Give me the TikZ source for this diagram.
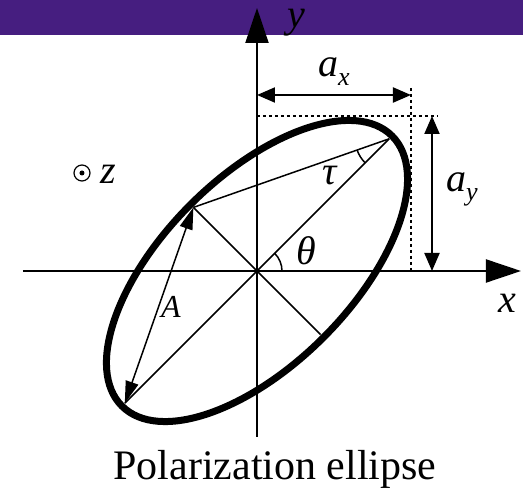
\documentclass[tikz,border=0pt]{standalone}
\usepackage{fontspec}
\setmainfont{Liberation Serif}
\usetikzlibrary{arrows.meta}
\definecolor{banner}{RGB}{70,30,128}
\newcommand{\lblsub}[2]{\itshape #1\raisebox{-9pt}{\fontsize{26}{26}\selectfont\itshape #2}}
\begin{document}
\begin{tikzpicture}[x=1pt,y=1pt,
  lbl/.style={font=\fontsize{40}{40}\selectfont\itshape, inner sep=0pt},
  axisarrow/.style={line width=2pt, -{Triangle[length=35pt,width=23pt]}},
  dimarrow/.style={line width=2pt, {Triangle[length=18pt,width=15pt]}-{Triangle[length=18pt,width=15pt]}},
  aarrow/.style={line width=1.5pt, {Triangle[length=22pt,width=13pt]}-{Triangle[length=22pt,width=13pt]}},
  thinline/.style={line width=1.5pt},
  dotline/.style={line width=1.5pt, dash pattern=on 3pt off 3pt},
  ellipseline/.style={line width=7pt}
  ]
\useasboundingbox (-257,-218) rectangle (266,271);
\fill[banner] (-257,236) rectangle (266,271);
% key points
\coordinate (O) at (0,0);
\coordinate (P1) at (132.2,132.2);
\coordinate (P2) at (-132.2,-132.2);
\coordinate (Q1) at (-63.6,63.6);
\coordinate (Q2) at (63.6,-63.6);
\coordinate (ybot) at (0,-166);
\coordinate (ytop) at (0,263);
\coordinate (xleft) at (-234,0);
\coordinate (xright) at (264,0);
\coordinate (axl) at (0,176);
\coordinate (axr) at (154,176);
\coordinate (dvt) at (154,183);
\coordinate (dvb) at (154,0);
\coordinate (dhl) at (0,155);
\coordinate (dhr) at (181,155);
\coordinate (ayt) at (175,155);
\coordinate (ayb) at (175,0);
% axes
\draw[axisarrow] (ybot) -- (ytop);
\draw[axisarrow] (xleft) -- (xright);
% ellipse
\draw[ellipseline, rotate=45] (O) ellipse [x radius=191pt, y radius=94pt];
% inner lines
\draw[thinline] (P2) -- (P1);
\draw[thinline] (Q1) -- (Q2);
\draw[thinline] (Q1) -- (P1);
\draw[aarrow] (Q1) -- (P2);
% angles
\draw[thinline] (25,0) arc[start angle=0, end angle=45, radius=25];
\draw[thinline] (P1) ++(199.3:34) arc[start angle=199.3, end angle=225, radius=34];
% dotted box
\draw[dotline] (dvt) -- (dvb);
\draw[dotline] (dhl) -- (dhr);
% dimension arrows
\draw[dimarrow] (axl) -- (axr);
\draw[dimarrow] (ayt) -- (ayb);
% z symbol
\coordinate (zc) at (-175,98);
\draw[line width=1.2pt] (zc) circle[radius=8];
\fill (zc) circle[radius=2.5];
% labels
\node[lbl] (ylbl) at (39,248) {y};
\node[lbl] (xlbl) at (250,-32) {x};
\node[lbl] (zlbl) at (-149,97) {z};
\node[lbl] (axlbl) at (77,199) {\lblsub{a}{x}};
\node[lbl] (aylbl) at (205,82) {\lblsub{a}{y}};
\node[lbl] (taulbl) at (73,95) {τ};
\node[lbl] (thetalbl) at (49,20) {θ};
\node[lbl, font=\fontsize{32}{32}\selectfont\itshape] (Albl) at (-86,-36) {A};
\node[anchor=base, inner sep=0pt, font=\fontsize{42}{42}\selectfont] (caption) at (18,-209) {Polarization ellipse};
\end{tikzpicture}
\end{document}
